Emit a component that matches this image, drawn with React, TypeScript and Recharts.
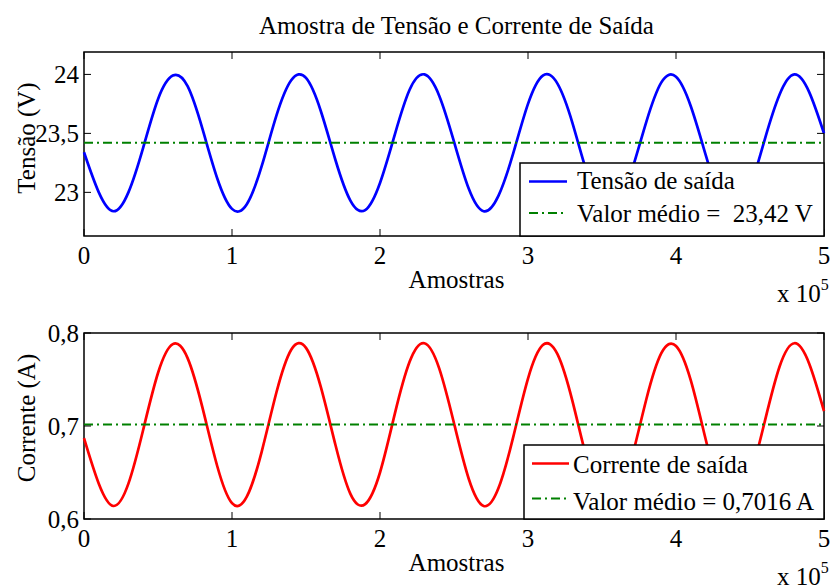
import React from 'react';
import { LineChart, Line, XAxis, YAxis, ReferenceLine, ReferenceArea } from 'recharts';

// Número da amostra (eixo x, escala x 10^5)
const amostras = [
  0, 10000, 20000, 30000, 40000, 50000, 60000, 70000, 80000, 90000,
  100000, 110000, 120000, 130000, 140000, 150000, 160000, 170000, 180000, 190000,
  200000, 210000, 220000, 230000, 240000, 250000, 260000, 270000, 280000, 290000,
  300000, 310000, 320000, 330000, 340000, 350000, 360000, 370000, 380000, 390000,
  400000, 410000, 420000, 430000, 440000, 450000, 460000, 470000, 480000, 490000,
  500000,
];

// Tensão de saída (V)
const tensaoSaida = [
  23.34, 23.0, 22.84, 23.0, 23.38, 23.79, 23.99, 23.9, 23.54, 23.12,
  22.86, 22.9, 23.22, 23.65, 23.95, 23.97, 23.69, 23.27, 22.93, 22.85,
  23.08, 23.49, 23.87, 24.0, 23.82, 23.43, 23.03, 22.84, 22.97, 23.33,
  23.75, 23.99, 23.92, 23.59, 23.16, 22.88, 22.88, 23.18, 23.6, 23.93,
  23.98, 23.73, 23.32, 22.95, 22.84, 23.04, 23.45, 23.83, 24.0, 23.85,
  23.5,
];

// Corrente de saída (A)
const correnteSaida = [
  0.687, 0.638, 0.614, 0.638, 0.696, 0.757, 0.788, 0.773, 0.72, 0.657,
  0.617, 0.624, 0.672, 0.736, 0.782, 0.784, 0.742, 0.679, 0.627, 0.616,
  0.65, 0.713, 0.769, 0.789, 0.762, 0.703, 0.643, 0.614, 0.633, 0.688,
  0.751, 0.787, 0.777, 0.727, 0.663, 0.62, 0.621, 0.665, 0.729, 0.778,
  0.786, 0.749, 0.686, 0.631, 0.615, 0.645, 0.705, 0.764, 0.789, 0.767,
  0.716,
];

const tensaoMedia = 23.42;
const correnteMedia = 0.7016;

const xTicks = [0, 100000, 200000, 300000, 400000, 500000];
const tensaoTicks = [23, 23.5, 24];
const correnteTicks = [0.6, 0.7, 0.8];
const tensaoDomain: [number, number] = [22.63, 24.19];
const correnteDomain: [number, number] = [0.6, 0.8];

const W = 836;
const H = 588;
const LEFT = 84;
const RIGHT = 824;
const FONT = "'Liberation Serif', 'Times New Roman', serif";
const TICK_LEN = 7;
// espessura mínima dos eixos (o recharts não desenha eixos de tamanho 0)
const AXIS_SIZE = 1;

const textStyle: React.CSSProperties = { fontFamily: FONT, fontSize: 25, fill: '#000' };

const fmtDecimal = (v: number) => String(v).replace('.', ',');

type PanelProps = {
  values: number[];
  color: string;
  mean: number;
  domain: [number, number];
  yTicks: number[];
  top: number;
  bottom: number;
};

const Panel: React.FC<PanelProps> = ({ values, color, mean, domain, yTicks, top, bottom }) => {
  const data = amostras.map((x, i) => ({ x, y: values[i] }));

  const renderXTick = (props: any) => {
    const { x, payload } = props;
    return (
      <g>
        <line x1={x} x2={x} y1={bottom} y2={bottom - TICK_LEN} stroke="#000" strokeWidth={1} />
        <line x1={x} x2={x} y1={top} y2={top + TICK_LEN} stroke="#000" strokeWidth={1} />
        <text x={x} y={bottom + 28} textAnchor="middle" style={textStyle}>
          {payload.value / 100000}
        </text>
      </g>
    );
  };

  const renderYTick = (props: any) => {
    const { y, payload } = props;
    return (
      <g>
        <line x1={LEFT} x2={LEFT + TICK_LEN} y1={y} y2={y} stroke="#000" strokeWidth={1} />
        <line x1={RIGHT - TICK_LEN} x2={RIGHT} y1={y} y2={y} stroke="#000" strokeWidth={1} />
        <text x={LEFT - 5} y={y + 8.5} textAnchor="end" style={textStyle}>
          {fmtDecimal(payload.value)}
        </text>
      </g>
    );
  };

  return (
    <div style={{ position: 'absolute', left: 0, top: 0 }}>
      <LineChart
        width={W}
        height={H}
        data={data}
        margin={{
          top,
          bottom: H - bottom - AXIS_SIZE,
          left: LEFT - AXIS_SIZE,
          right: W - RIGHT,
        }}
      >
        <XAxis
          dataKey="x"
          type="number"
          domain={[0, 500000]}
          ticks={xTicks}
          interval={0}
          height={AXIS_SIZE}
          tickSize={0}
          axisLine={false}
          tickLine={false}
          tick={renderXTick}
        />
        <YAxis
          type="number"
          domain={domain}
          ticks={yTicks}
          interval={0}
          width={AXIS_SIZE}
          tickSize={0}
          axisLine={false}
          tickLine={false}
          allowDataOverflow
          tick={renderYTick}
        />
        <Line
          type="natural"
          dataKey="y"
          stroke={color}
          strokeWidth={2.7}
          dot={false}
          isAnimationActive={false}
        />
        <ReferenceLine
          y={mean}
          stroke="#008000"
          strokeWidth={2}
          strokeDasharray="9 4 2 4"
        />
        <ReferenceArea
          x1={0}
          x2={500000}
          y1={domain[0]}
          y2={domain[1]}
          fill="none"
          fillOpacity={0}
          stroke="#000"
          strokeWidth={1.5}
        />
      </LineChart>
    </div>
  );
};

type LegendProps = {
  x: number;
  y: number;
  width: number;
  height: number;
  color: string;
  lineX: [number, number];
  textX: number;
  rows: { label: string; lineY: number; baseY: number }[];
};

const LegendBox: React.FC<LegendProps> = ({ x, y, width, height, color, lineX, textX, rows }) => (
  <g>
    <rect x={x} y={y} width={width} height={height} fill="#fff" stroke="#000" strokeWidth={1.5} />
    {rows.map((r, i) => (
      <g key={r.label}>
        <line
          x1={lineX[0]}
          x2={lineX[1]}
          y1={r.lineY}
          y2={r.lineY}
          stroke={i === 0 ? color : '#008000'}
          strokeWidth={i === 0 ? 2.7 : 2}
          strokeDasharray={i === 0 ? undefined : '9 4 2 4'}
        />
        <text x={textX} y={r.baseY} style={{ ...textStyle, whiteSpace: 'pre' }}>
          {r.label}
        </text>
      </g>
    ))}
  </g>
);

const Multiplier: React.FC<{ y: number }> = ({ y }) => (
  <text x={777} y={y} style={textStyle}>
    x 10
    <tspan style={{ fontSize: 16 }} dy={-12}>5</tspan>
  </text>
);

const App: React.FC = () => (
  <div style={{ position: 'absolute', left: 0, top: 0, width: W, height: H, background: '#fff' }}>
    <Panel
      values={tensaoSaida}
      color="#0000ff"
      mean={tensaoMedia}
      domain={tensaoDomain}
      yTicks={tensaoTicks}
      top={52}
      bottom={236}
    />
    <Panel
      values={correnteSaida}
      color="#ff0000"
      mean={correnteMedia}
      domain={correnteDomain}
      yTicks={correnteTicks}
      top={333}
      bottom={519}
    />
    <svg
      width={W}
      height={H}
      style={{ position: 'absolute', left: 0, top: 0, pointerEvents: 'none' }}
    >
      <text x={456.5} y={34} textAnchor="middle" style={textStyle}>
        Amostra de Tensão e Corrente de Saída
      </text>

      <text x={456.5} y={288} textAnchor="middle" style={textStyle}>
        Amostras
      </text>
      <text x={456.5} y={571} textAnchor="middle" style={textStyle}>
        Amostras
      </text>

      <Multiplier y={302} />
      <Multiplier y={585} />

      <text
        x={26}
        y={138}
        transform="rotate(-90 26 138)"
        textAnchor="middle"
        dominantBaseline="central"
        style={textStyle}
      >
        Tensão (V)
      </text>
      <text
        x={26}
        y={418}
        transform="rotate(-90 26 418)"
        textAnchor="middle"
        dominantBaseline="central"
        style={textStyle}
      >
        Corrente (A)
      </text>

      <LegendBox
        x={520}
        y={163}
        width={304}
        height={73}
        color="#0000ff"
        lineX={[529, 567]}
        textX={577}
        rows={[
          { label: 'Tensão de saída', lineY: 181.5, baseY: 189 },
          { label: `Valor médio =  ${fmtDecimal(tensaoMedia)} V`, lineY: 213, baseY: 222 },
        ]}
      />
      <LegendBox
        x={524}
        y={445}
        width={300}
        height={74}
        color="#ff0000"
        lineX={[532, 569]}
        textX={573}
        rows={[
          { label: 'Corrente de saída', lineY: 463.5, baseY: 473 },
          { label: `Valor médio = ${fmtDecimal(correnteMedia)} A`, lineY: 498.5, baseY: 510 },
        ]}
      />
    </svg>
  </div>
);

export default App;
